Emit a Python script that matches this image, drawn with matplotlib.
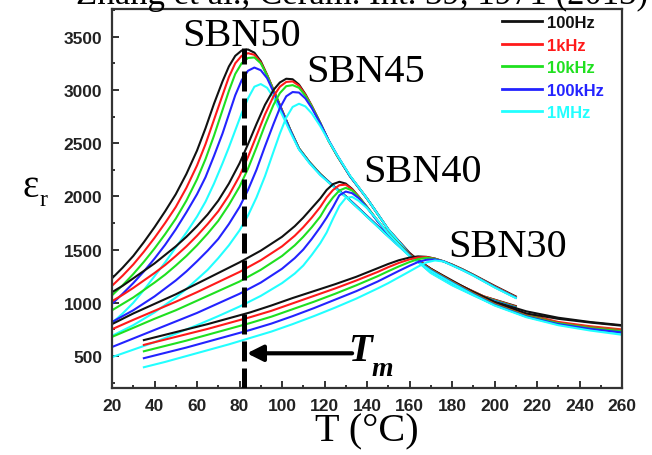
import matplotlib
matplotlib.use("Agg")
import matplotlib.pyplot as plt
from matplotlib.ticker import MultipleLocator


# dielectric permittivity of SBN ceramics vs temperature, 5 frequencies

FREQ_LABELS = ["100Hz", "1kHz", "10kHz", "100kHz", "1MHz"]
FREQ_COLORS = ["#111111", "#ff1a1a", "#1fe01f", "#2323ff", "#22ffff"]

# SBN50
T_50 = [20, 25, 30, 35, 40, 45, 50, 55, 60, 64, 68, 72, 75, 78, 81, 84, 87, 90, 93, 96,
        100, 104, 108, 113, 118, 124, 130, 137, 145, 152, 160, 170, 180, 195, 210]
EPS_50 = [
    [1230, 1330, 1440, 1570, 1710, 1860, 2020, 2210, 2430, 2640, 2870, 3080, 3220, 3320, 3370, 3380, 3350, 3270, 3140, 3000,
     2810, 2620, 2450, 2320, 2210, 2100, 2000, 1870, 1720, 1590, 1450, 1320, 1200, 1060, 970],
    [1160, 1255, 1360, 1480, 1610, 1750, 1900, 2080, 2290, 2490, 2720, 2950, 3120, 3250, 3320, 3345, 3330, 3260, 3140, 3000,
     2810, 2620, 2450, 2320, 2210, 2100, 2000, 1870, 1720, 1590, 1450, 1320, 1200, 1060, 965],
    [1070, 1165, 1270, 1385, 1510, 1645, 1790, 1960, 2160, 2350, 2570, 2810, 2990, 3150, 3250, 3300, 3305, 3250, 3135, 2995,
     2805, 2620, 2450, 2320, 2210, 2100, 2000, 1870, 1720, 1590, 1450, 1315, 1195, 1055, 960],
    [990, 1085, 1185, 1295, 1415, 1545, 1690, 1850, 2020, 2180, 2380, 2590, 2770, 2950, 3090, 3180, 3210, 3185, 3110, 2980,
     2800, 2615, 2445, 2315, 2205, 2100, 2000, 1870, 1720, 1590, 1445, 1310, 1190, 1050, 955],
    [810, 900, 1000, 1120, 1250, 1380, 1520, 1660, 1810, 1950, 2120, 2310, 2460, 2620, 2780, 2920, 3030, 3055, 3020, 2930,
     2770, 2600, 2440, 2310, 2200, 2095, 1995, 1865, 1715, 1585, 1440, 1305, 1185, 1045, 950],
]

# SBN45
T_45 = [20, 25, 30, 35, 40, 45, 50, 55, 60, 65, 70, 75, 80, 84, 88, 92, 96, 99, 102, 105,
        108, 111, 114, 118, 122, 126, 132, 140, 150, 160, 170, 180, 190, 200, 215, 230, 245, 260]
EPS_45 = [
    [1100, 1160, 1230, 1300, 1370, 1450, 1530, 1620, 1720, 1830, 1960, 2120, 2310, 2490, 2680, 2860, 3000, 3070, 3105, 3100,
     3050, 2960, 2850, 2690, 2520, 2380, 2190, 1980, 1690, 1470, 1300, 1190, 1100, 1010, 920, 860, 820, 790],
    [1015, 1075, 1140, 1210, 1280, 1355, 1440, 1530, 1630, 1740, 1860, 2010, 2190, 2370, 2570, 2770, 2940, 3030, 3075, 3080,
     3040, 2955, 2850, 2690, 2520, 2380, 2190, 1980, 1690, 1465, 1295, 1180, 1085, 995, 895, 820, 780, 750],
    [930, 990, 1050, 1120, 1190, 1265, 1350, 1440, 1540, 1650, 1770, 1920, 2090, 2260, 2460, 2670, 2860, 2970, 3035, 3045,
     3020, 2945, 2845, 2690, 2520, 2380, 2190, 1980, 1690, 1460, 1290, 1175, 1080, 990, 888, 812, 772, 742],
    [820, 875, 930, 995, 1060, 1135, 1210, 1295, 1390, 1490, 1600, 1740, 1900, 2060, 2250, 2470, 2680, 2830, 2940, 2980,
     2975, 2920, 2830, 2685, 2525, 2385, 2190, 1980, 1690, 1460, 1285, 1170, 1075, 985, 880, 805, 762, 730],
    [690, 740, 790, 850, 910, 980, 1050, 1130, 1220, 1310, 1420, 1540, 1680, 1820, 1990, 2190, 2420, 2590, 2740, 2840,
     2870, 2845, 2780, 2660, 2520, 2385, 2195, 1980, 1690, 1455, 1280, 1165, 1070, 980, 872, 795, 750, 712],
]

# SBN40
T_40 = [20, 30, 40, 50, 60, 70, 80, 90, 100, 106, 110, 114, 118, 121, 124, 127, 130, 133, 136, 140,
        145, 150, 155, 160, 170, 180, 190, 200, 215, 230, 245, 260]
EPS_40 = [
    [800, 900, 990, 1080, 1180, 1280, 1380, 1490, 1620, 1720, 1800, 1890, 1980, 2060, 2115, 2137, 2120, 2070, 2000, 1900,
     1770, 1650, 1550, 1460, 1320, 1210, 1100, 1005, 900, 850, 815, 785],
    [752, 840, 925, 1010, 1100, 1195, 1290, 1400, 1530, 1630, 1710, 1800, 1900, 1990, 2060, 2105, 2110, 2065, 2000, 1900,
     1770, 1650, 1550, 1455, 1315, 1200, 1090, 990, 880, 815, 770, 740],
    [680, 765, 850, 930, 1020, 1110, 1200, 1310, 1440, 1540, 1620, 1710, 1810, 1910, 1990, 2055, 2080, 2055, 1995, 1900,
     1770, 1650, 1550, 1450, 1310, 1195, 1085, 985, 875, 808, 763, 733],
    [585, 665, 745, 825, 905, 995, 1085, 1190, 1320, 1420, 1500, 1600, 1710, 1800, 1900, 2010, 2045, 2030, 1985, 1895,
     1765, 1645, 1545, 1445, 1305, 1190, 1080, 980, 870, 800, 755, 722],
    [490, 560, 630, 710, 790, 875, 965, 1065, 1185, 1275, 1350, 1450, 1560, 1660, 1790, 1910, 1985, 1995, 1960, 1890,
     1775, 1650, 1545, 1440, 1300, 1185, 1075, 975, 865, 790, 740, 700],
]

# SBN30
T_30 = [35, 45, 55, 65, 75, 85, 95, 105, 115, 125, 135, 145, 150, 155, 160, 164, 168, 172, 176, 180,
        185, 190, 200, 210]
EPS_30 = [
    [650, 700, 750, 800, 855, 910, 975, 1045, 1110, 1175, 1245, 1325, 1365, 1400, 1425, 1436, 1432, 1415, 1390, 1360,
     1315, 1265, 1160, 1060],
    [605, 655, 705, 755, 810, 865, 925, 995, 1065, 1135, 1210, 1290, 1335, 1375, 1408, 1426, 1430, 1415, 1390, 1358,
     1312, 1262, 1155, 1055],
    [545, 595, 645, 700, 755, 810, 870, 940, 1010, 1085, 1165, 1250, 1297, 1342, 1383, 1410, 1423, 1413, 1390, 1356,
     1310, 1260, 1150, 1050],
    [480, 530, 580, 635, 690, 745, 805, 875, 950, 1030, 1110, 1200, 1250, 1300, 1348, 1383, 1405, 1408, 1390, 1354,
     1308, 1258, 1148, 1048],
    [395, 445, 500, 555, 610, 670, 730, 800, 875, 955, 1040, 1135, 1185, 1240, 1295, 1340, 1380, 1398, 1388, 1352,
     1306, 1256, 1145, 1045],
]

SAMPLES = [
    ("SBN50", T_50, EPS_50, 81, 3420),
    ("SBN45", T_45, EPS_45, 139.5, 3080),
    ("SBN40", T_40, EPS_40, 166, 2140),
    ("SBN30", T_30, EPS_30, 206, 1436),
]

TM = 82
TM_TOP = 3390
ARROW_START = 133
ARROW_Y = 526

SERIF = ["Liberation Serif", "DejaVu Serif"]
SANS = ["Liberation Sans", "DejaVu Sans"]


def main():
    fig = plt.figure(figsize=(6.52, 4.56), dpi=100)
    ax = fig.add_axes([112 / 652, 1 - 389 / 456, 510 / 652, 379 / 456])

    for name, temps, eps_list, lx, ly in SAMPLES:
        for i, eps in enumerate(eps_list):
            label = FREQ_LABELS[i] if name == "SBN50" else None
            ax.plot(temps, eps, color=FREQ_COLORS[i], lw=1.5, label=label,
                    solid_joinstyle="round")
        ax.text(lx, ly, name, ha="center", va="baseline", fontsize=29,
                family=SERIF)

    # Tm marker
    ax.plot([TM, TM], [200, TM_TOP], color="black", lw=3.6,
            linestyle=(0, (4.0, 1.4)), zorder=5)
    ax.annotate("", xy=(TM + 1.5, ARROW_Y), xytext=(ARROW_START, ARROW_Y),
                arrowprops=dict(arrowstyle="-|>", color="black", lw=3,
                                mutation_scale=24, shrinkA=0, shrinkB=0))
    ax.text(ARROW_START - 2, ARROW_Y - 60, "T", fontsize=28, family=SERIF,
            style="italic", weight="bold", va="baseline")
    ax.text(ARROW_START + 9, ARROW_Y - 200, "m", fontsize=20, family=SERIF,
            style="italic", weight="bold", va="baseline")

    ax.set_xlim(20, 260)
    ax.set_ylim(200, 3760)
    ax.xaxis.set_major_locator(MultipleLocator(20))
    ax.xaxis.set_minor_locator(MultipleLocator(10))
    ax.yaxis.set_minor_locator(MultipleLocator(250))
    ax.set_yticks([500, 1000, 1500, 2000, 2500, 3000, 3500])

    ax.tick_params(which="both", direction="in", top=False, right=False,
                   colors="#222222", width=1.3)
    ax.tick_params(which="major", length=5, labelsize=12.5, pad=7)
    ax.tick_params(which="minor", length=2.5)
    for lab in ax.get_xticklabels() + ax.get_yticklabels():
        lab.set_fontweight("bold")
        lab.set_family(SANS)
        lab.set_color("#222222")
    for sp in ax.spines.values():
        sp.set_linewidth(1.6)
        sp.set_color("#333333")

    ax.set_xlabel("T (°C)", fontsize=29, family=SERIF, labelpad=0)
    fig.text(22 / 652, 1 - 197 / 456, "ε", fontsize=28, family=SERIF)
    fig.text(40 / 652, 1 - 206 / 456, "r", fontsize=17, family=SERIF)

    fig.text(648 / 652, 1 - 4 / 456, "Zhang et al., Ceram. Int. 39, 1971 (2013)",
             ha="right", va="baseline", fontsize=25, family=SERIF)

    leg = ax.legend(loc="upper right", bbox_to_anchor=(0.985, 1.01), frameon=False,
                    prop=dict(family=SANS, weight="bold", size=12),
                    handlelength=2.4, handletextpad=0.3, labelspacing=0.45,
                    borderaxespad=0.2, labelcolor="linecolor")
    for line in leg.get_lines():
        line.set_linewidth(2)

    fig.savefig("out.png", dpi=100, facecolor="white")


if __name__ == "__main__":
    main()
